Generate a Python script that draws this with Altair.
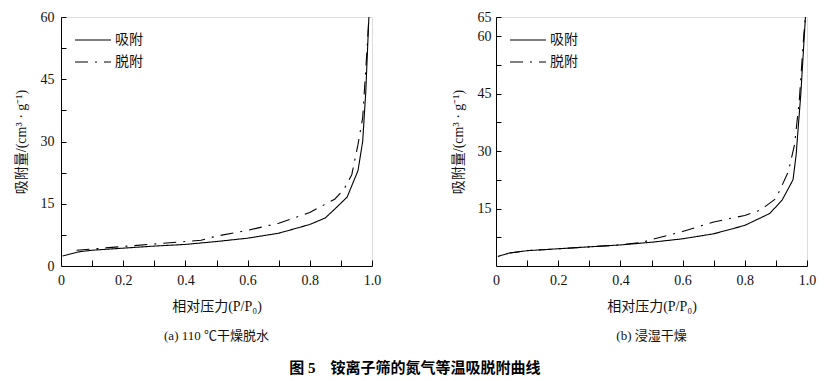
import altair as alt
import pandas as pd

# ---- data ----
series_names = ["吸附", "脱附"]

a_ads_p = [0.005, 0.06, 0.1, 0.2, 0.3, 0.4, 0.5, 0.6, 0.7, 0.8, 0.85, 0.88, 0.92, 0.955, 0.97, 0.98, 0.99]
a_ads_v = [2.4, 3.45, 3.8, 4.3, 4.8, 5.2, 5.9, 6.7, 7.9, 10.0, 11.6, 13.7, 16.6, 23.0, 30.0, 42.0, 60.0]
a_des_p = [0.05, 0.1, 0.2, 0.3, 0.4, 0.45, 0.5, 0.6, 0.7, 0.8, 0.88, 0.91, 0.935, 0.955, 0.97, 0.985, 0.99]
a_des_v = [3.8, 4.1, 4.7, 5.3, 5.9, 6.2, 7.2, 8.6, 10.3, 12.9, 16.1, 18.5, 22.0, 29.3, 35.7, 53.4, 60.0]

b_ads_p = [0.006, 0.044, 0.1, 0.2, 0.3, 0.4, 0.5, 0.6, 0.7, 0.8, 0.88, 0.92, 0.955, 0.965, 0.98, 0.995]
b_ads_v = [2.5, 3.4, 4.0, 4.5, 5.0, 5.5, 6.2, 7.1, 8.4, 10.6, 13.7, 17.2, 22.5, 29.0, 44.8, 65.0]
b_des_p = [0.044, 0.1, 0.2, 0.3, 0.4, 0.47, 0.5, 0.6, 0.7, 0.8, 0.85, 0.9, 0.94, 0.96, 0.975, 0.99, 0.995]
b_des_v = [3.4, 4.0, 4.5, 5.0, 5.5, 6.2, 6.9, 9.0, 11.5, 13.2, 14.6, 17.6, 24.6, 31.7, 43.0, 60.6, 65.0]

x_major = [0, 0.2, 0.4, 0.6, 0.8, 1.0]
x_ticks = [0.1, 0.2, 0.3, 0.4, 0.5, 0.6, 0.7, 0.8, 0.9, 1.0]
a_y_major = [0, 15, 30, 45, 60]
a_y_ticks = [7.5, 15, 22.5, 30, 37.5, 45, 52.5, 60]
b_y_major = [15, 30, 45, 60, 65]
b_y_ticks = [7.5, 15, 22.5, 30, 37.5, 45, 52.5, 60, 65]

captions = ["(a) 110 ℃干燥脱水", "(b) 浸湿干燥"]
main_title = "图 5\u3000铵离子筛的氮气等温吸脱附曲线"
x_title = "相对压力(P/P₀)"
y_title = "吸附量/(cm³ · g⁻¹)"

NUM = "Liberation Serif"
SERIF = "Liberation Serif, Noto Sans CJK SC"


def make_df(ap, av, dp, dv):
    rows = [{"p": p, "v": v, "s": series_names[0]} for p, v in zip(ap, av)]
    rows += [{"p": p, "v": v, "s": series_names[1]} for p, v in zip(dp, dv)]
    return pd.DataFrame(rows)


def panel(df, ymax, y_major, y_ticks, caption, ylabpad):
    base = alt.Chart(df)
    xs = alt.Scale(domain=[0, 1], nice=False, zero=False)
    ys = alt.Scale(domain=[0, ymax], nice=False)
    lines = base.mark_line(color="black", strokeWidth=1.1).encode(
        x=alt.X("p:Q", scale=xs, axis=alt.Axis(
            orient="bottom", values=x_major, ticks=False, tickSize=0, grid=False,
            labelExpr="datum.value == 0 ? '0' : format(datum.value, '.1f')",
            labelFlush=False, labelPadding=7, labelFontSize=14, labelFont=NUM,
            labelColor="#111", domainColor="black", domainWidth=1,
            title=x_title, titleFont=SERIF, titleFontSize=14, titleFontWeight="normal",
            titleColor="#111", titlePadding=12)),
        y=alt.Y("v:Q", scale=ys, axis=alt.Axis(
            orient="left", values=y_major, ticks=False, tickSize=0, grid=False,
            labelPadding=ylabpad, labelFontSize=14, labelFont=NUM, labelColor="#111",
            domainColor="black", domainWidth=1,
            title=y_title, titleFont=SERIF, titleFontSize=14, titleFontWeight="normal",
            titleColor="#111", titlePadding=12)),
        strokeDash=alt.StrokeDash("s:N", scale=alt.Scale(
            domain=series_names, range=[[1, 0], [13, 7, 2, 7]]),
            legend=alt.Legend(
                orient="none", legendX=25, legendY=16, title=None,
                symbolType="M-3,0H3", symbolSize=144, symbolStrokeWidth=1.1,
                symbolStrokeColor="black", labelOffset=15, rowPadding=8,
                labelFont=SERIF, labelFontSize=14, labelColor="#111")),
    )
    ticks = base.mark_point(opacity=0).encode(
        x=alt.X("p:Q", scale=xs, axis=alt.Axis(
            orient="bottom", values=x_ticks, labels=False, domain=False, grid=False,
            ticks=True, tickSize=6, offset=-6, tickColor="black", title=None)),
        y=alt.Y("v:Q", scale=ys, axis=alt.Axis(
            orient="left", values=y_ticks, labels=False, domain=False, grid=False,
            ticks=True, tickSize=5, offset=-5, tickColor="black", title=None)),
    )
    return alt.layer(lines, ticks).resolve_axis(x="independent", y="independent").properties(
        width=311, height=249,
        title=alt.TitleParams(caption, orient="bottom", frame="group", anchor="middle",
                              fontSize=13, fontWeight="normal", font=SERIF,
                              color="#111", offset=17),
    )


pa = panel(make_df(a_ads_p, a_ads_v, a_des_p, a_des_v), 60, a_y_major, a_y_ticks, captions[0], 7)
pb = panel(make_df(b_ads_p, b_ads_v, b_des_p, b_des_v), 65, b_y_major, b_y_ticks, captions[1], 5)

chart = alt.hconcat(pa, pb, spacing=68).resolve_scale(strokeDash="independent").resolve_legend(
    strokeDash="independent"
).properties(
    padding={"left": 5, "top": 1, "right": 5, "bottom": 1},
    title=alt.TitleParams(main_title, orient="bottom", anchor="middle", fontSize=15,
                          fontWeight="bold", font=SERIF,
                          color="black", offset=17),
).configure_view(stroke=None).configure(background="white")

chart.save("out.html", embed_options={"renderer": "svg", "actions": False})
